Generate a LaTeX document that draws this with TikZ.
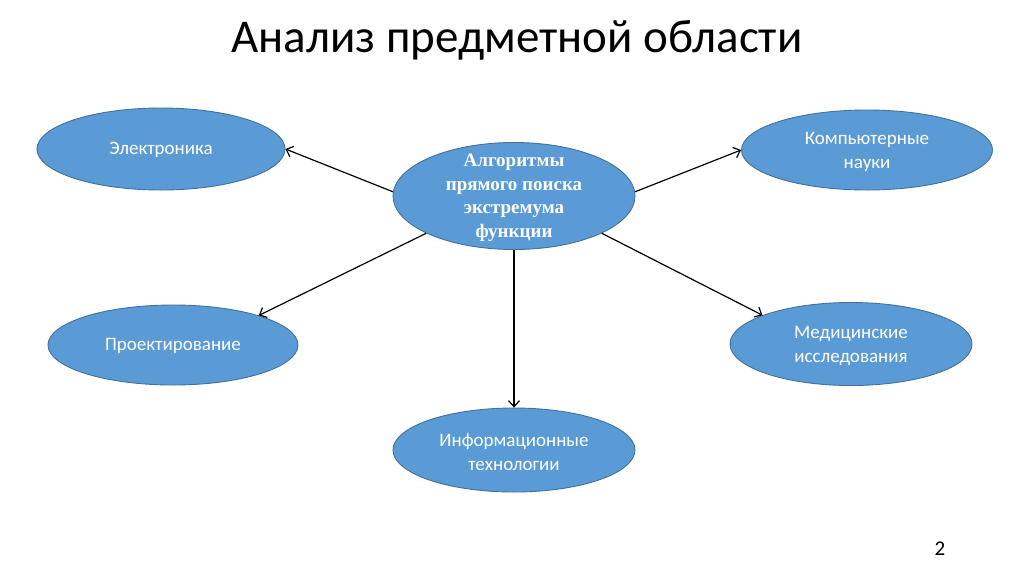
\documentclass[tikz,border=0pt]{standalone}
\usepackage{fontspec}
\setmainfont{Carlito}
\newfontfamily\serifbold{Liberation Serif}
\usetikzlibrary{shapes.geometric,arrows.meta}
\definecolor{bubfill}{HTML}{5B9BD5}
\definecolor{bubline}{HTML}{41719C}
\tikzset{
  bub/.style={ellipse, draw=bubline, fill=bubfill, line width=0.9pt, inner sep=0pt},
  btext/.style={align=center, text=white, font=\fontsize{19}{24.5}\selectfont},
  ctext/.style={align=center, text=white, font=\serifbold\bfseries\fontsize{19}{23.5}\selectfont},
  link/.style={draw=black, line width=1.2pt, -{Straight Barb[length=6pt,width=11pt]}}
}
\begin{document}
\begin{tikzpicture}[x=1pt,y=1pt]
\useasboundingbox[fill=white] (0,0) rectangle (1024,-574);
\node[font=\fontsize{47}{52}\selectfont] (title) at (517,-40) {Анализ предметной области};
\node[font=\fontsize{21}{24}\selectfont] (num) at (940,-549) {2};

\node[bub, minimum width=242pt, minimum height=107pt] (c) at (514,-196) {};
\node[bub, minimum width=248pt, minimum height=82pt] (e) at (161,-149) {};
\node[bub, minimum width=251pt, minimum height=80pt] (k) at (867,-150) {};
\node[bub, minimum width=250pt, minimum height=80pt] (p) at (173,-345) {};
\node[bub, minimum width=242pt, minimum height=83pt] (m) at (851,-344) {};
\node[bub, minimum width=242pt, minimum height=84pt] (i) at (514,-450) {};

\node[ctext] (ct) at ([yshift=-2pt]c.center) {Алгоритмы\\прямого поиска\\экстремума\\функции};
\node[btext] (et) at ([yshift=-1pt]e.center) {Электроника};
\node[btext] (kt) at ([yshift=-2pt]k.center) {Компьютерные\\науки};
\node[btext] (pt) at ([yshift=-1pt]p.center) {Проектирование};
\node[btext] (mt) at ([yshift=-2pt]m.center) {Медицинские\\исследования};
\node[btext] (it) at ([yshift=-2pt]i.center) {Информационные\\технологии};

\draw[link] (c.178) -- (e.0);
\draw[link] (c.203) -- (p.19);
\draw[link] (c.south) -- (i.north);
\draw[link] (c.337) -- (m.162);
\draw[link] (c.2.4) -- (k.180);
\end{tikzpicture}
\end{document}
